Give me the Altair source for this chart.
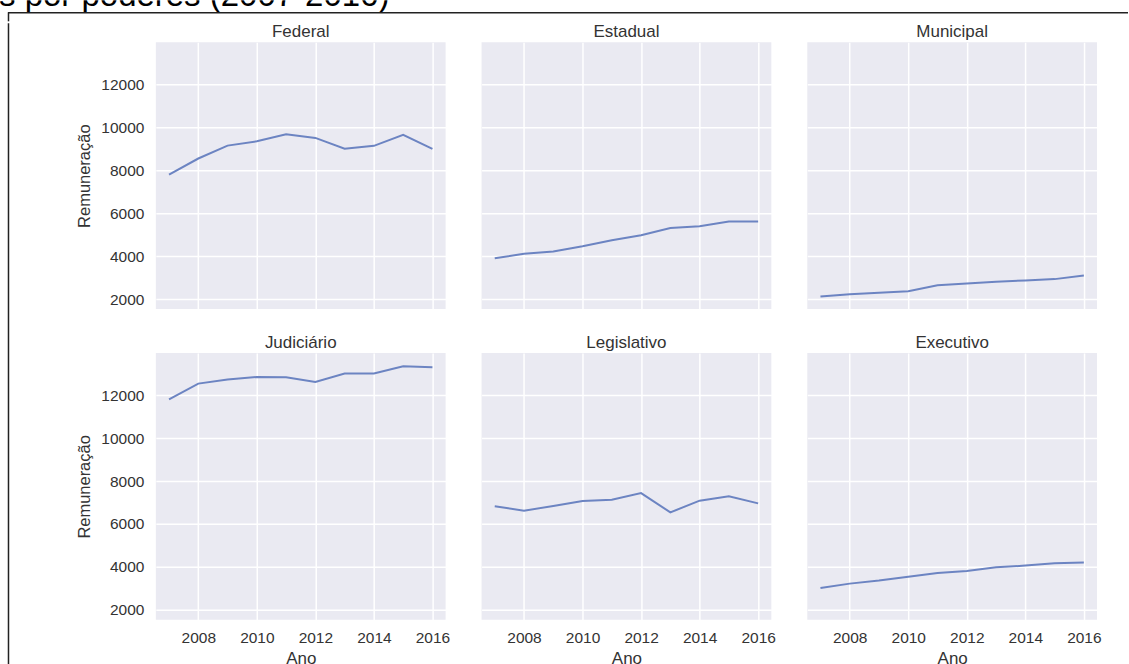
import altair as alt
import pandas as pd

# ---------------- data ----------------
anos = [2007, 2008, 2009, 2010, 2011, 2012, 2013, 2014, 2015, 2016]
paineis = ["Federal", "Estadual", "Municipal", "Judiciário", "Legislativo", "Executivo"]
federal = [7800, 8550, 9150, 9350, 9680, 9510, 9010, 9140, 9650, 9000]
estadual = [3900, 4110, 4220, 4460, 4740, 4970, 5310, 5390, 5610, 5620]
municipal = [2120, 2230, 2300, 2360, 2640, 2730, 2810, 2870, 2930, 3100]
judiciario = [11800, 12540, 12730, 12850, 12840, 12620, 13010, 13010, 13350, 13300]
legislativo = [6820, 6620, 6840, 7070, 7130, 7440, 6540, 7085, 7290, 6960]
executivo = [3020, 3220, 3360, 3535, 3720, 3810, 3980, 4060, 4170, 4200]
series = [federal, estadual, municipal, judiciario, legislativo, executivo]

x_ticks = [2008, 2010, 2012, 2014, 2016]
y_ticks = [2000, 4000, 6000, 8000, 10000, 12000]
x_domain = [2006.55, 2016.45]
y_domain = [1535, 13965]
titulo = "s por poderes (2007-2016)"

# ---------------- style ----------------
FONT = "Liberation Sans"
TXT = "#333333"
LINE = "#6c84c2"
BG = "#EAEAF2"
FRAME = "#222222"
H_A = 21      # height of top strip
LS = 76       # width of left strip
W, H = 290, 267


def cell(name, values, row, col):
    df = pd.DataFrame({"Ano": anos, "Remuneração": values})
    bottom = row == 1
    left = col == 0
    xa = dict(values=x_ticks, format="d", grid=True, gridColor="white", gridWidth=1.5,
              domain=False, ticks=False, labels=bottom, labelFontSize=15.5,
              labelPadding=11, labelColor=TXT, labelFont=FONT)
    ya = dict(values=y_ticks, format="d", grid=True, gridColor="white", gridWidth=1.5,
              domain=False, ticks=False, labels=left, labelFontSize=15.5,
              labelPadding=12, labelColor=TXT, labelFont=FONT)
    if bottom:
        xa.update(titleFontSize=17, titleFontWeight="normal", titleColor=TXT,
                  titlePadding=4, titleFont=FONT)
    if left:
        ya.update(titleFontSize=16.5, titleFontWeight="normal", titleColor=TXT,
                  titlePadding=8, titleFont=FONT)
    x = alt.X("Ano:Q", scale=alt.Scale(domain=x_domain, nice=False, zero=False),
              axis=alt.Axis(**xa), title="Ano" if bottom else None)
    y = alt.Y("Remuneração:Q", scale=alt.Scale(domain=y_domain, nice=False, zero=False),
              axis=alt.Axis(**ya), title="Remuneração" if left else None)
    return (
        alt.Chart(df)
        .mark_line(color=LINE, strokeWidth=2)
        .encode(x=x, y=y)
        .properties(
            width=W, height=H,
            title=alt.TitleParams(text=name, fontSize=17, offset=1, frame="group",
                                  anchor="middle", color=TXT, fontWeight="normal", font=FONT),
            view=alt.ViewBackground(fill=BG, strokeWidth=0),
        )
    )


cells = [cell(n, s, i // 3, i % 3) for i, (n, s) in enumerate(zip(paineis, series))]
grid = alt.ConcatChart(concat=cells, columns=3,
                       spacing=alt.RowColnumber(row=44, column=36), bounds="flush")

title_df = pd.DataFrame({"t": [titulo]})
t_text = alt.Chart(title_df).mark_text(
    align="left", baseline="alphabetic", fontSize=33, color="black", font=FONT, clip=True
).encode(x=alt.value(-1), y=alt.value(6), text="t:N")
t_rule_h = alt.Chart(title_df).mark_rule(color=FRAME, strokeWidth=1.5).encode(
    x=alt.value(8), x2=alt.value(1129), y=alt.value(12.5))
t_rule_v = alt.Chart(title_df).mark_rule(color=FRAME, strokeWidth=1.5).encode(
    x=alt.value(8.5), y=alt.value(12), y2=alt.value(H_A))
title_strip = alt.layer(t_text, t_rule_h, t_rule_v).properties(
    width=1129, height=H_A, view=alt.ViewBackground(fill="white", strokeWidth=0))

left_strip = alt.Chart(title_df).mark_rule(color=FRAME, strokeWidth=1.5).encode(
    x=alt.value(8.5), y=alt.value(-19), y2=alt.value(700)
).properties(width=LS, height=700, view=alt.ViewBackground(fill="white", strokeWidth=0))

row_b = alt.hconcat(left_strip, grid, spacing=0)
chart = alt.vconcat(title_strip, row_b, spacing=0).properties(
    padding=0, background="white"
).configure(font=FONT)

chart.save("out.html", embed_options={"renderer": "svg", "actions": False})
